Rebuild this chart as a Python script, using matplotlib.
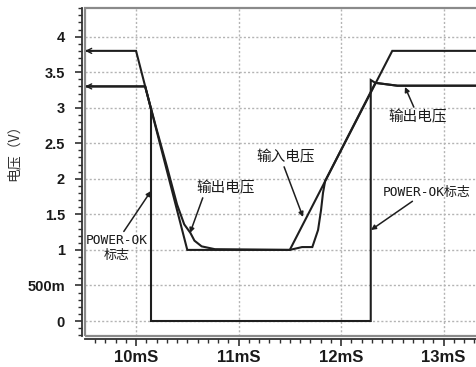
import matplotlib
matplotlib.use("Agg")
import matplotlib.pyplot as plt
from matplotlib.patches import Rectangle
from matplotlib.ticker import MultipleLocator, FixedLocator, FixedFormatter

# Input voltage waveform (ms, V)
t_in = [9.50, 10.00, 10.50, 11.50, 12.50, 13.40]
v_in = [3.80, 3.80, 1.00, 1.00, 3.80, 3.80]

# Regulator output voltage waveform (ms, V)
t_out = [9.50, 10.089, 10.20, 10.30, 10.40, 10.47, 10.53, 10.57, 10.64, 10.77,
         11.50, 11.62, 11.72, 11.776, 11.805, 11.824, 11.845, 12.335, 12.55, 13.40]
v_out = [3.30, 3.30, 2.70, 2.18, 1.64, 1.36, 1.24, 1.13, 1.05, 1.01,
         1.00, 1.04, 1.04, 1.28, 1.56, 1.80, 1.97, 3.35, 3.31, 3.31]

# POWER-OK flag waveform (ms, V)
t_pg = [9.50, 10.089, 10.146, 10.146, 12.29, 12.29, 12.335, 12.55, 13.40]
v_pg = [3.30, 3.30, 2.98, 0.00, 0.00, 3.39, 3.35, 3.31, 3.31]

x_ticks = [10, 11, 12, 13]
x_labels = ["10mS", "11mS", "12mS", "13mS"]
y_ticks = [0, 0.5, 1, 1.5, 2, 2.5, 3, 3.5, 4]
y_labels = ["0", "500m", "1", "1.5", "2", "2.5", "3", "3.5", "4"]

W, H = 476, 367
fig = plt.figure(figsize=(W / 100, H / 100), dpi=100)
ax = fig.add_axes([85 / W, (H - 336) / H, 1 - 85 / W, (336 - 8) / H])
ax.set_xlim(9.502, 13.317)
ax.set_ylim(-0.211, 4.403)

line_kw = dict(color="#1e1e1e", lw=1.5, solid_joinstyle="miter")
ax.plot(t_pg, v_pg, **line_kw)
ax.plot(t_in, v_in, **line_kw)
ax.plot(t_out, v_out, **line_kw)

# grid
ax.xaxis.set_major_locator(FixedLocator(x_ticks))
ax.xaxis.set_major_formatter(FixedFormatter(x_labels))
ax.yaxis.set_major_locator(FixedLocator(y_ticks))
ax.yaxis.set_major_formatter(FixedFormatter(y_labels))
ax.xaxis.set_minor_locator(MultipleLocator(0.1))
ax.yaxis.set_minor_locator(MultipleLocator(0.1))
ax.grid(True, which="major", color="#b4b4b4", lw=1.0, linestyle=(0, (1.5, 1.5)))

# axis lines set slightly apart from the plot frame
for s in ("top", "right"):
    ax.spines[s].set_visible(False)
for s in ("left", "bottom"):
    ax.spines[s].set_position(("outward", 2.4))
    ax.spines[s].set_color("#303030")
    ax.spines[s].set_linewidth(1.3)
ax.add_patch(Rectangle((0, 0), 1.2, 1, transform=ax.transAxes, fill=False,
                       ec="#8a8a8a", lw=1.6, clip_on=False, zorder=3))

ax.tick_params(axis="both", which="major", direction="out", length=5,
               width=1.2, color="#303030")
ax.tick_params(axis="both", which="minor", direction="out", length=3,
               width=1.0, color="#303030")
ax.tick_params(axis="y", which="major", pad=7, labelsize=10.5, labelcolor="#1a1a1a")
ax.tick_params(axis="x", which="major", pad=3, labelsize=12, labelcolor="#1a1a1a")
for lab in ax.get_xticklabels() + ax.get_yticklabels():
    lab.set_fontfamily("Liberation Sans")
    lab.set_fontweight("bold")

ax.set_ylabel("电压（V）", family=["Noto Sans CJK SC", "DejaVu Sans"],
              fontsize=10, color="#333333")
ax.yaxis.set_label_coords(-0.165, 0.57)

# level markers on the left edge
for lvl in (3.80, 3.30):
    ax.annotate("", xy=(9.503, lvl), xytext=(9.58, lvl),
                arrowprops=dict(arrowstyle="->", lw=1.0, color="#1e1e1e",
                                mutation_scale=9, shrinkA=0, shrinkB=0))

cjk = ["Noto Sans CJK SC", "DejaVu Sans"]
mono = ["DejaVu Sans Mono", "Noto Sans CJK SC"]
arrow = dict(arrowstyle="-|>", lw=1.1, color="#1e1e1e", mutation_scale=7,
             shrinkA=0, shrinkB=0)

def px(x, y):
    return (9.502 + (x - 85) / 102.5, (321 - y) / 71.08)

ax.annotate("输出电压", xy=px(190, 233), xytext=px(226, 188), family=cjk,
            fontsize=10.5, ha="center", va="center", color="#1a1a1a",
            arrowprops=dict(arrow, relpos=(0.12, 0.0)))
ax.annotate("输入电压", xy=px(303, 217), xytext=px(286, 157), family=cjk,
            fontsize=10.5, ha="center", va="center", color="#1a1a1a",
            arrowprops=dict(arrow, relpos=(0.45, 0.0)))
ax.annotate("输出电压", xy=px(405, 87), xytext=px(418, 117), family=cjk,
            fontsize=10.5, ha="center", va="center", color="#1a1a1a",
            arrowprops=dict(arrow, relpos=(0.45, 1.0)))
ax.annotate("POWER-OK标志", xy=px(371, 230), xytext=px(427, 192), family=mono,
            fontsize=9.3, ha="center", va="center", color="#1a1a1a",
            arrowprops=dict(arrow, relpos=(0.38, 0.0)))
ax.annotate("POWER-OK\n标志", xy=px(151, 191), xytext=px(117, 248), family=mono,
            fontsize=9.3, ha="center", va="center", color="#1a1a1a",
            linespacing=1.15,
            arrowprops=dict(arrow, relpos=(0.58, 1.0)))

fig.savefig("out.png", dpi=100)
